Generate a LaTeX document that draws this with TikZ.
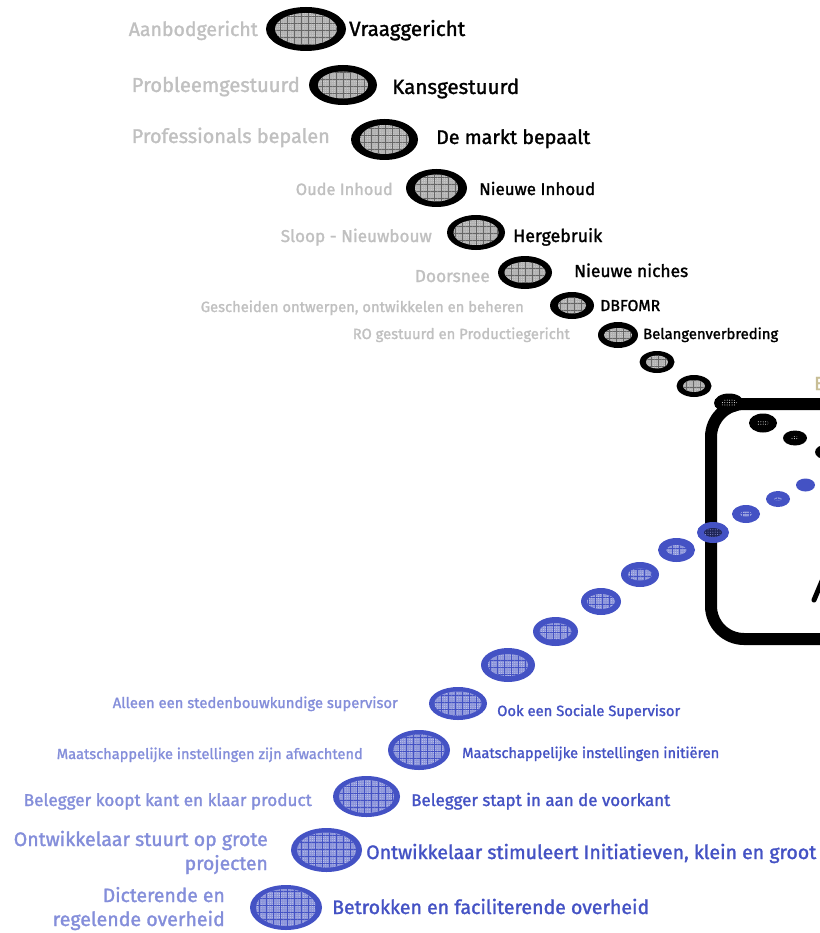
\documentclass[tikz,border=0pt]{standalone}
\usepackage{graphicx}
\usepackage{fontspec}
\setmainfont{Fira Sans}
\newfontfamily\lblfont[FakeBold=1.5]{Fira Sans}
\usetikzlibrary{shapes.geometric,patterns.meta}
\definecolor{bluec}{RGB}{68,82,196}
\definecolor{lblue}{RGB}{132,142,218}
\definecolor{lgray}{RGB}{192,192,192}
\definecolor{etan}{RGB}{200,190,150}
\newcommand\fitw[2]{\resizebox{#1pt}{!}{#2}}
\tikzset{
  blkin/.style={fill=gray!60,
    postaction={pattern={Dots[distance=2.2pt,radius=.45pt]},pattern color=gray!30},
    postaction={pattern={Hatch[distance=7pt,line width=.5pt]},pattern color=black!60}},
  blktiny/.style={fill=black,
    postaction={pattern={Dots[distance=2.4pt,radius=.5pt]},pattern color=white}},
  bluin/.style={fill=bluec!62,
    postaction={pattern={Dots[distance=2.2pt,radius=.45pt]},pattern color=white!75!bluec},
    postaction={pattern={Hatch[distance=7pt,line width=.5pt]},pattern color=bluec}},
  bludark/.style={fill=black!55!bluec,
    postaction={pattern={Dots[distance=2.4pt,radius=.5pt]},pattern color=bluec!60}},
  lbl/.style={inner sep=0,font=\lblfont},
}
% name, x, y, W, H, w, h, innerstyle
\newcommand\blkell[8]{%
  \node[ellipse,fill=black,inner sep=0,minimum width=#4pt,minimum height=#5pt] (#1) at (#2,#3) {};
  \path[#8] (#1.center) ellipse [x radius=#6*0.5pt, y radius=#7*0.5pt];}
\newcommand\bluell[8]{%
  \node[ellipse,fill=bluec,inner sep=0,minimum width=#4pt,minimum height=#5pt] (#1) at (#2,#3) {};
  \path[#8] (#1.center) ellipse [x radius=#6*0.5pt, y radius=#7*0.5pt];}
\begin{document}
\begin{tikzpicture}[x=1pt,y=-1pt]
\useasboundingbox (0,0) rectangle (819,933);
% rounded frame
\draw[line width=12pt, rounded corners=33pt] (960,404) -- (711,404) -- (711,639) -- (960,639);
\draw[line width=5pt, line cap=round] (814,600) -- (822,581);
\node[inner sep=0, anchor=base west, text=etan, font=\lblfont\fontsize{19}{19}\selectfont] (etxt) at (814,390) {E};
% black ellipses
\blkell{e1}{306}{29}{80}{44}{62}{32}{blkin}
\blkell{e2}{343}{85}{68}{40}{50}{27}{blkin}
\blkell{e3}{384.5}{139.5}{67}{41}{49}{29}{blkin}
\blkell{e4}{436.5}{188}{61}{38}{43}{27}{blkin}
\blkell{e5}{476}{232.5}{58}{35}{45}{25}{blkin}
\blkell{e6}{525}{272.5}{54}{33}{41}{21}{blkin}
\blkell{e7}{572}{305.5}{44}{27}{28}{16}{blkin}
\blkell{e8}{618}{335}{40}{26}{28}{14}{blkin}
\blkell{e9}{657}{362}{35}{22}{22}{13}{blkin}
\blkell{e10}{694}{386}{35}{22}{22}{12}{blkin}
\blkell{e11}{729}{403}{30}{19}{16}{8}{blktiny}
\blkell{e12}{763}{423}{28}{19}{13}{6}{blktiny}
\blkell{e13}{795}{438}{24}{15}{8}{4}{blktiny}
\blkell{e14}{827}{452}{24}{15}{8}{4}{blktiny}
% blue ellipses
\bluell{b1}{286}{907.5}{72}{45}{60}{37}{bluin}
\bluell{b2}{326.5}{850}{71}{44}{59}{35}{bluin}
\bluell{b3}{366.5}{796.5}{67}{41}{55}{33}{bluin}
\bluell{b4}{419}{750}{62}{40}{51}{31}{bluin}
\bluell{b5}{458}{703.5}{58}{33}{47}{24}{bluin}
\bluell{b6}{508}{665}{54}{34}{40}{22}{bluin}
\bluell{b7}{555.5}{631.5}{45}{29}{32}{17}{bluin}
\bluell{b8}{601}{601.5}{40}{27}{28}{15}{bluin}
\bluell{b9}{640}{574.5}{38}{25}{24}{12}{bluin}
\bluell{b10}{676.5}{550}{37}{24}{20}{10}{bluin}
\bluell{b11}{713}{532.5}{32}{21}{18}{9}{bludark}
\bluell{b12}{746}{514}{28}{18}{12}{5}{bluin}
\bluell{b13}{778}{499}{24}{16}{8}{3}{bluin}
\node[ellipse,fill=bluec,inner sep=0,minimum width=19pt,minimum height=13pt] (b14) at (805.5,485) {};
% black labels (right)
\node[lbl,anchor=base west] (r1) at (349,36) {\fitw{116}{Vraaggericht}};
\node[lbl,anchor=base west] (r2) at (392,94) {\fitw{127}{Kansgestuurd}};
\node[lbl,anchor=base west] (r3) at (436,144) {\fitw{154}{De markt bepaalt}};
\node[lbl,anchor=base west] (r4) at (479,195) {\fitw{116}{Nieuwe Inhoud}};
\node[lbl,anchor=base west] (r5) at (513,242) {\fitw{89}{Hergebruik}};
\node[lbl,anchor=base west] (r6) at (574,277) {\fitw{114}{Nieuwe niches}};
\node[lbl,anchor=base west] (r7) at (600,311) {\fitw{60}{DBFOMR}};
\node[lbl,anchor=base west] (r8) at (643,339) {\fitw{135}{Belangenverbreding}};
% gray labels (left)
\node[lbl,anchor=base east,text=lgray] (l1) at (258,36) {\fitw{129}{Aanbodgericht}};
\node[lbl,anchor=base east,text=lgray] (l2) at (300,92) {\fitw{168}{Probleemgestuurd}};
\node[lbl,anchor=base east,text=lgray] (l3) at (330,143) {\fitw{198}{Professionals bepalen}};
\node[lbl,anchor=base east,text=lgray] (l4) at (393,195) {\fitw{97}{Oude Inhoud}};
\node[lbl,anchor=base east,text=lgray] (l5) at (432,242) {\fitw{151}{Sloop - Nieuwbouw}};
\node[lbl,anchor=base east,text=lgray] (l6) at (490,282) {\fitw{75}{Doorsnee}};
\node[lbl,anchor=base east,text=lgray] (l7) at (524,312) {\fitw{323}{Gescheiden ontwerpen, ontwikkelen en beheren}};
\node[lbl,anchor=base east,text=lgray] (l8) at (570,339) {\fitw{217}{RO gestuurd en Productiegericht}};
% light blue labels (left)
\node[lbl,anchor=base east,text=lblue] (m1) at (398,708) {\fitw{285}{Alleen een stedenbouwkundige supervisor}};
\node[lbl,anchor=base east,text=lblue] (m2) at (363,759) {\fitw{306}{Maatschappelijke instellingen zijn afwachtend}};
\node[lbl,anchor=base east,text=lblue] (m3) at (312,806) {\fitw{288}{Belegger koopt kant en klaar product}};
\node[lbl,anchor=base east,text=lblue] (m4a) at (268,846) {\fitw{254}{Ontwikkelaar stuurt op grote}};
\node[lbl,anchor=base east,text=lblue] (m4b) at (268,870) {\fitw{83}{projecten}};
\node[lbl,anchor=base east,text=lblue] (m5a) at (225,902) {\fitw{122}{Dicterende en}};
\node[lbl,anchor=base east,text=lblue] (m5b) at (225,926) {\fitw{172}{regelende overheid}};
% blue labels (right)
\node[lbl,anchor=base west,text=bluec] (n1) at (497,716) {\fitw{183}{Ook een Sociale Supervisor}};
\node[lbl,anchor=base west,text=bluec] (n2) at (462,758) {\fitw{257}{Maatschappelijke instellingen initiëren}};
\node[lbl,anchor=base west,text=bluec] (n3) at (411,806) {\fitw{259}{Belegger stapt in aan de voorkant}};
\node[lbl,anchor=base west,text=bluec] (n4) at (366,859) {\fitw{450}{Ontwikkelaar stimuleert Initiatieven, klein en groot}};
\node[lbl,anchor=base west,text=bluec] (n5) at (332,914) {\fitw{317}{Betrokken en faciliterende overheid}};
\end{tikzpicture}
\end{document}
